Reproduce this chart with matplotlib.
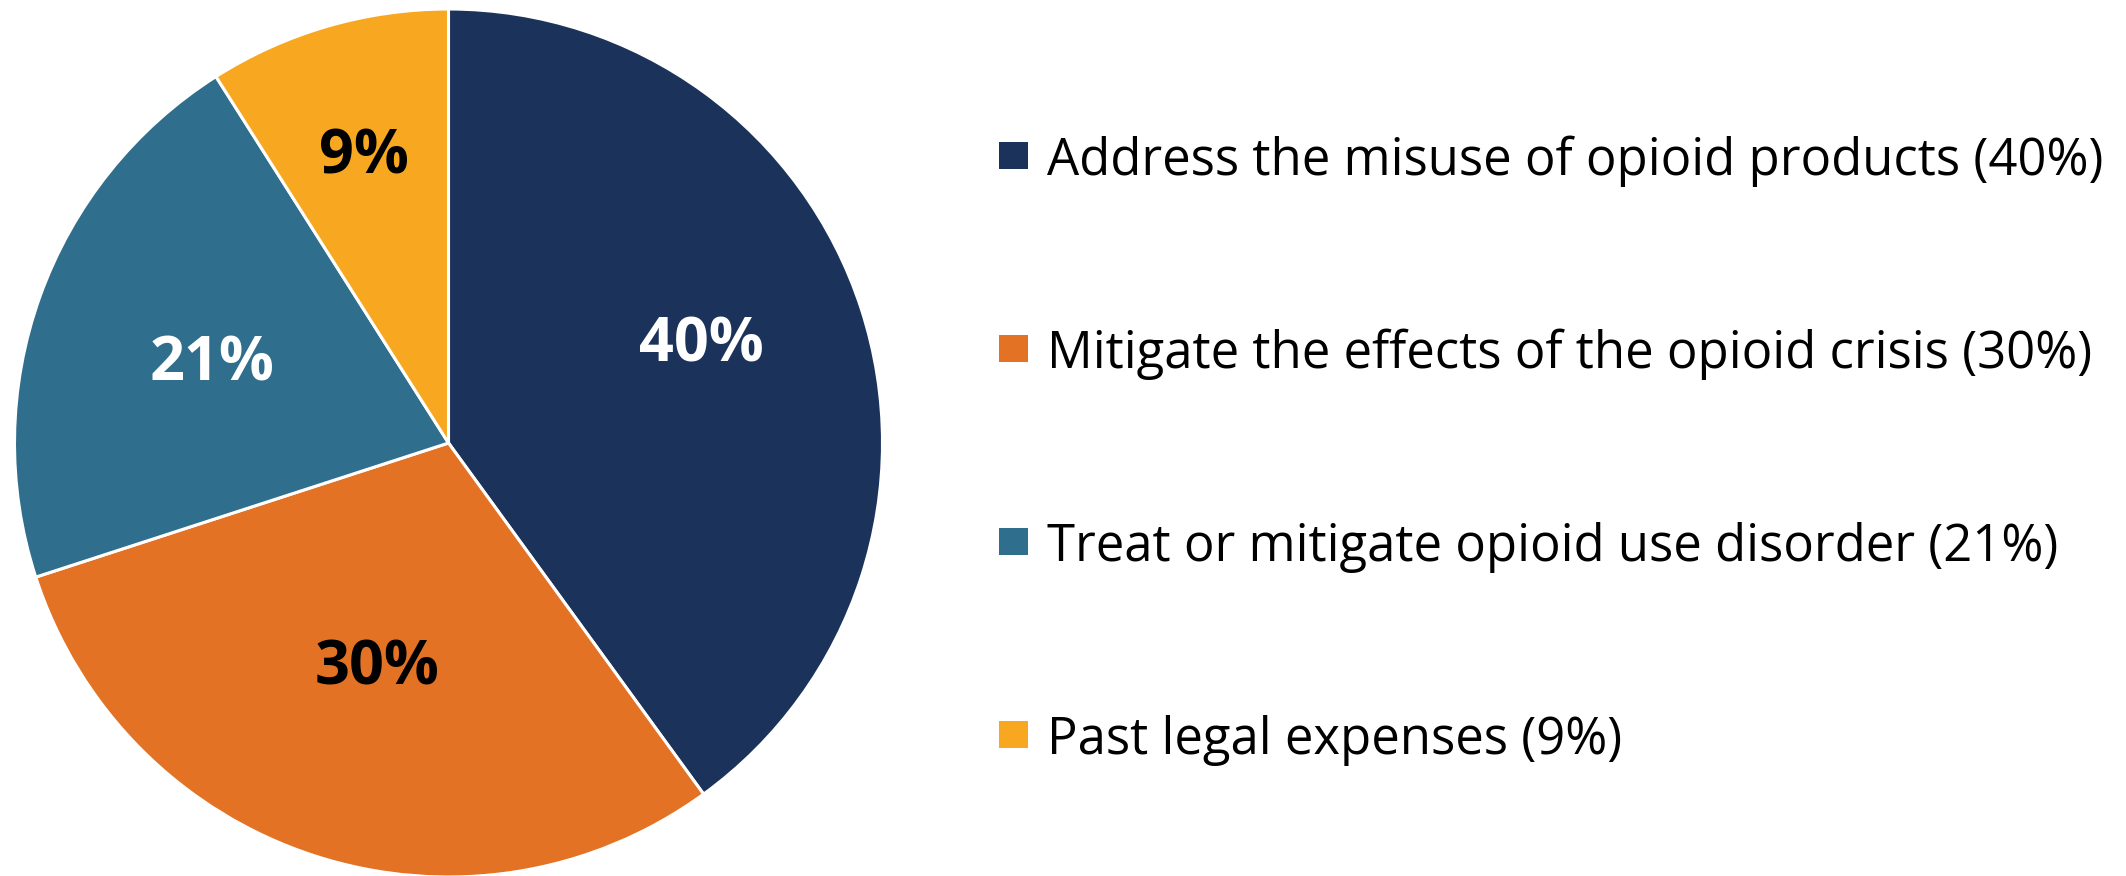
import matplotlib
matplotlib.use("Agg")
import matplotlib.pyplot as plt
from matplotlib.patches import Rectangle
import numpy as np

# spending shares
categories = [
    "Address the misuse of opioid products",
    "Mitigate the effects of the opioid crisis",
    "Treat or mitigate opioid use disorder",
    "Past legal expenses",
]
shares = [40, 30, 21, 9]

colors = ["#1B325B", "#E37225", "#2F6E8C", "#F8A820"]
label_colors = ["white", "black", "white", "black"]
label_radius = [0.63, 0.53, 0.58, 0.70]
label_nudge = [4.4, 0, 0, 0]   # degrees

plt.rcParams["font.family"] = ["Open Sans", "DejaVu Sans"]

W, H = 2126, 876
fig = plt.figure(figsize=(W / 100, H / 100), dpi=100)

cx, cy, r = 448.5, H - 443, 434
ax = fig.add_axes([(cx - r) / W, (cy - r) / H, 2 * r / W, 2 * r / H])
wedges, _ = ax.pie(shares, colors=colors, startangle=90, counterclock=False,
                   radius=1, wedgeprops=dict(edgecolor="white", linewidth=2.2))
ax.set_xlim(-1, 1)
ax.set_ylim(-1, 1)
ax.set_aspect("equal")
ax.axis("off")

# half the digit height, in data units
half_digit = 22.5 / r
for w, v, c, rad, nd in zip(wedges, shares, label_colors, label_radius, label_nudge):
    mid = np.deg2rad((w.theta1 + w.theta2) / 2 + nd)
    ax.text(rad * np.cos(mid), rad * np.sin(mid) - half_digit, f"{v}%", color=c,
            fontsize=44, fontweight="bold", ha="center", va="baseline")

# legend drawn by hand
x_box, box_w, box_h = 999, 29, 27
x_txt = 1047
base0, step = 175, 193
for i, (cat, v) in enumerate(zip(categories, shares)):
    base = base0 + i * step
    mid = base - 19.5
    fig.patches.append(Rectangle((x_box / W, (H - mid - box_h / 2) / H),
                                 box_w / W, box_h / H, transform=fig.transFigure,
                                 facecolor=colors[i], edgecolor="none"))
    fig.text(x_txt / W, (H - base) / H, f"{cat} ({v}%)", fontsize=36.6,
             color="black", ha="left", va="baseline")

fig.savefig("out.png", dpi=100, facecolor="white")
